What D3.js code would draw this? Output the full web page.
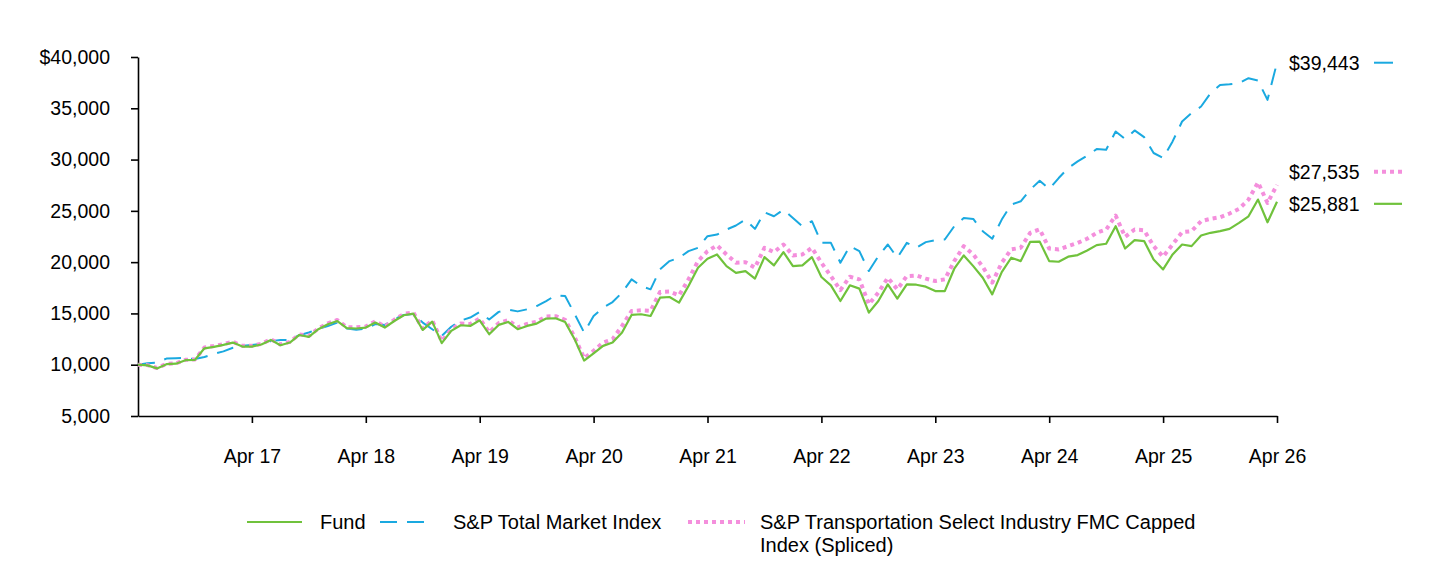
<!DOCTYPE html>
<html>
<head>
<meta charset="utf-8">
<script src="https://cdn.jsdelivr.net/npm/d3@7"></script>
<style>
  body { margin: 0; background: #fff; }
  svg text { font-family: "Liberation Sans", Arial, sans-serif; fill: #000; }
  .axis path, .axis line { stroke: #000; stroke-width: 1.6px; }
</style>
</head>
<body>
<svg class="chart" width="1440" height="564"></svg>
<script>
// monthly values, Apr 2016 .. Apr 2026
var fund = [10000, 9940, 9640, 10050, 10100, 10440, 10470, 11600, 11740, 11930, 12160, 11770,
  11770, 11970, 12420, 11900, 12160, 12900, 12710, 13460, 13940, 14260, 13560, 13530,
  13620, 14110, 13620, 14260, 14820, 14980, 13390, 14200, 12100, 13300, 13850, 13780,
  14330, 12970, 13880, 14170, 13460, 13780, 14010, 14500, 14530, 14170, 12490, 10400,
  11100, 11840, 12160, 13140, 14850, 14920, 14750, 16540, 16600, 16050, 17670, 19460,
  20330, 20750, 19610, 18960, 19130, 18390, 20490, 19680, 20980, 19610, 19680, 20490,
  18550, 17740, 16210, 17740, 17420, 15080, 16210, 17830, 16440, 17830, 17800, 17610,
  17180, 17180, 19360, 20650, 19610, 18480, 16860, 19030, 20430, 20100, 21980, 22000,
  20100, 20040, 20530, 20690, 21140, 21660, 21790, 23500, 21330, 22140, 22050, 20260,
  19290, 20750, 21720, 21560, 22600, 22860, 23020, 23240, 23830, 24470, 26100, 23890,
  25881];

var totalMarket = [10000, 10150, 10200, 10600, 10640, 10650, 10550, 10750, 11050, 11300, 11650, 11850,
  11930, 12050, 12300, 12420, 12420, 12880, 13140, 13500, 13780, 14100, 13530, 13420,
  13500, 13960, 13880, 14450, 14850, 14950, 14110, 13460, 12810, 13700, 14300, 14600,
  15140, 14400, 15150, 15370, 15200, 15400, 15720, 16210, 16760, 16700, 14950, 13140,
  14750, 15570, 16110, 17030, 18320, 17670, 17350, 19290, 20100, 20430, 21070, 21400,
  22530, 22690, 23180, 23570, 24150, 23240, 24860, 24470, 25120, 24310, 23500, 23990,
  21880, 21880, 19940, 21560, 21070, 19130, 20590, 21720, 20430, 21880, 21400, 21950,
  22140, 22210, 23500, 24310, 24210, 23020, 22280, 24150, 25610, 25930, 27070, 27930,
  27130, 28200, 29180, 29820, 30380, 31020, 30960, 32740, 32000, 32840, 32190, 30640,
  30150, 31770, 33710, 34530, 35170, 36470, 37280, 37340, 37440, 37930, 37700, 35820,
  39443];

var transport = [10000, 9960, 9680, 10080, 10140, 10480, 10520, 11680, 11820, 12010, 12230, 11840,
  11840, 12040, 12480, 11980, 12230, 12960, 12800, 13540, 14030, 14360, 13660, 13640,
  13720, 14230, 13730, 14380, 14950, 15110, 13520, 14330, 12280, 13460, 14020, 13960,
  14500, 13150, 14060, 14360, 13650, 13980, 14200, 14700, 14730, 14380, 12700, 10640,
  11350, 12160, 12490, 13780, 15240, 15300, 15240, 17090, 17130, 16760, 18320, 20100,
  21070, 21630, 20750, 19940, 20000, 19460, 21400, 20980, 21720, 20650, 20750, 21400,
  19940, 18640, 17280, 18580, 18320, 15890, 17030, 18480, 17350, 18640, 18700, 18390,
  18160, 18320, 20100, 21560, 20750, 19550, 18000, 19940, 21240, 21400, 22860, 23200,
  21330, 21240, 21560, 21880, 22280, 22860, 23180, 24540, 22470, 23180, 23110, 21560,
  20530, 21720, 22920, 23020, 23990, 24220, 24380, 24740, 25190, 26100, 27780, 25770,
  27535];

var xTickLabels = ["Apr 17", "Apr 18", "Apr 19", "Apr 20", "Apr 21", "Apr 22", "Apr 23", "Apr 24", "Apr 25", "Apr 26"];
var yTicks = [5000, 10000, 15000, 20000, 25000, 30000, 35000, 40000];

var seriesNames = ["Fund", "S&P Total Market Index", "S&P Transportation Select Industry FMC Capped Index (Spliced)"];

var svg = d3.select(".chart"),
    margin = {top: 57, left: 138, right: 163, bottom: 148},
    width = +svg.attr("width") - margin.left - margin.right,
    height = +svg.attr("height") - margin.top - margin.bottom;

var x = d3.scaleLinear().domain([0, 120]).range([0, width]);
var y = d3.scaleLinear().domain([5000, 40000]).range([height, 0]);

var g = svg.append("g")
    .attr("transform", "translate(" + margin.left + "," + margin.top + ")");

g.append("g")
    .attr("class", "x axis")
    .attr("transform", "translate(0," + height + ")")
    .call(d3.axisBottom(x)
      .tickValues(xTickLabels.map(function(d, i) { return (i + 1) * 12; }))
      .tickFormat(function(d, i) { return xTickLabels[i]; })
      .tickSizeInner(7).tickSizeOuter(0).tickPadding(26))
    .selectAll("text").style("font-size", "19.5px");

g.append("g")
    .attr("class", "y axis")
    .call(d3.axisLeft(y)
      .tickValues(yTicks)
      .tickFormat(function(d) { return (d == 40000 ? "$" : "") + d3.format(",")(d); })
      .tickSizeInner(7).tickSizeOuter(0).tickPadding(21))
    .selectAll("text").style("font-size", "19.5px");

svg.selectAll(".domain").attr("stroke-width", 2);

var line = d3.line()
    .x(function(d, i) { return x(i); })
    .y(function(d) { return y(d); });

var styles = [
  {data: totalMarket, color: "#1aa9e0", width: 2, dash: "17,10"},
  {data: transport, color: "#f48fdc", width: 4, dash: "4,4"},
  {data: fund, color: "#70c23c", width: 2.2, dash: null}
];

styles.forEach(function(s) {
  g.append("path")
      .datum(s.data)
      .attr("fill", "none")
      .attr("stroke", s.color)
      .attr("stroke-width", s.width)
      .attr("stroke-dasharray", s.dash)
      .attr("stroke-linejoin", "round")
      .attr("d", line);
});

// end value labels
var ends = [
  {v: totalMarket[120], s: styles[0], off: 0, len: 19},
  {v: transport[120], s: styles[1], off: -13, len: 28},
  {v: fund[120], s: styles[2], off: 2, len: 28}
];
ends.forEach(function(e) {
  var ly = margin.top + y(e.v) + e.off;
  svg.append("text")
      .attr("x", 1289)
      .attr("y", ly)
      .attr("dy", "0.35em")
      .style("font-size", "19.5px")
      .text("$" + d3.format(",")(e.v));
  svg.append("line")
      .attr("x1", 1374).attr("x2", 1374 + e.len)
      .attr("y1", ly).attr("y2", ly)
      .attr("stroke", e.s.color)
      .attr("stroke-width", e.s.width)
      .attr("stroke-dasharray", e.s.dash == "4,4" ? "4,4" : null);
});

// legend
var legY = 522;
var leg = [
  {s: styles[2], x1: 247, x2: 302, tx: 320, lines: ["Fund"]},
  {s: styles[0], x1: 380, x2: 428, tx: 453, lines: ["S&P Total Market Index"]},
  {s: styles[1], x1: 688, x2: 745, tx: 760, lines: ["S&P Transportation Select Industry FMC Capped", "Index (Spliced)"]}
];
leg.forEach(function(l) {
  svg.append("line")
      .attr("x1", l.x1).attr("x2", l.x2)
      .attr("y1", legY).attr("y2", legY)
      .attr("stroke", l.s.color)
      .attr("stroke-width", l.s.width)
      .attr("stroke-dasharray", l.s.dash);
  var t = svg.append("text")
      .attr("x", l.tx)
      .attr("y", legY)
      .attr("dy", "0.35em")
      .style("font-size", "20px");
  l.lines.forEach(function(txt, i) {
    t.append("tspan").attr("x", l.tx).attr("dy", i == 0 ? "0.35em" : "1.15em").text(txt);
  });
});
</script>
</body>
</html>
